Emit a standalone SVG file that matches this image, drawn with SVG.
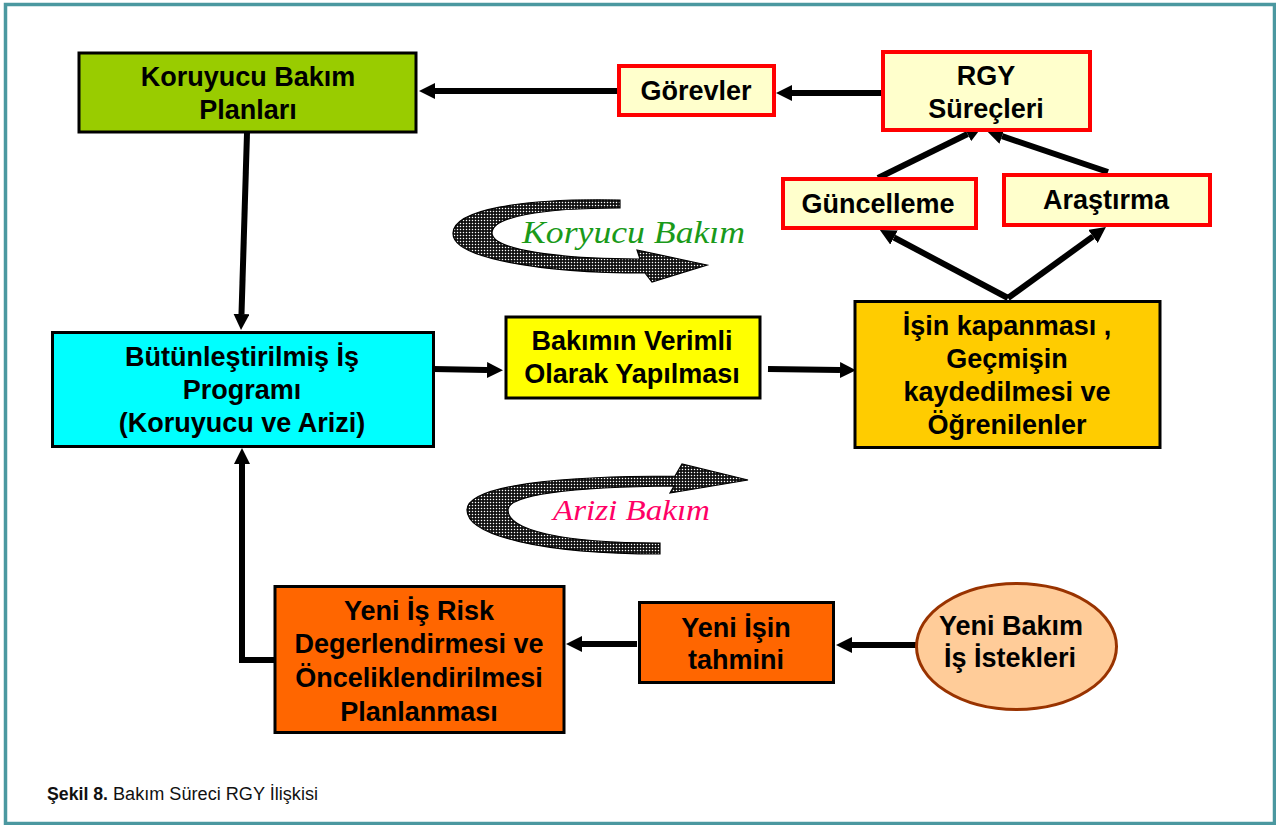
<svg xmlns="http://www.w3.org/2000/svg" width="1276" height="825" viewBox="0 0 1276 825">
  <style>
    .lbl { font-family: "Liberation Sans", Arial, sans-serif; font-weight: bold; font-size: 27px; fill: #000; text-anchor: middle; }
    .box { stroke: #000; stroke-width: 3; }
    .rbox { fill: #ffffcc; stroke: #ff0000; stroke-width: 4; }
    .conn { fill: none; stroke: #000; stroke-width: 6; marker-end: url(#head); }
    .swirl { fill: url(#dots); stroke: #000; stroke-width: 1.2; }
    .cap { font-family: "Liberation Sans", Arial, sans-serif; font-size: 18px; fill: #111; }
  </style>
  <defs>
    <marker id="head" markerUnits="userSpaceOnUse" viewBox="0 0 16 16" markerWidth="16" markerHeight="16" refX="0" refY="8" orient="auto">
      <path d="M0,0 L16,8 L0,16 z" fill="#000"/>
    </marker>
    <pattern id="dots" width="3" height="3" patternUnits="userSpaceOnUse">
      <rect width="3" height="3" fill="#111111"/>
      <circle cx="1.5" cy="1.5" r="0.75" fill="#ffffff"/>
    </pattern>
  </defs>

  <rect width="1276" height="825" fill="#ffffff"/>
  <rect x="5.5" y="4.5" width="1269" height="819" fill="none" stroke="#4b98a0" stroke-width="3.5"/>

  <!-- cycle arrows -->
  <g id="koruyucu-cycle">
    <path class="swirl" d="M620,200 C520,198 454,210 453,233 C452,258 540,273 645,273 L652,282 L707,265 L637,250 L640,259 C560,259 492,250 492,233 C492,217 540,208 620,208 Z"/>
    <text x="522" y="243" font-family="'Liberation Serif', 'Times New Roman', serif" font-style="italic" font-size="32" fill="#1a9a1a" textLength="223" lengthAdjust="spacingAndGlyphs">Koryucu Bakım</text>
  </g>
  <g id="arizi-cycle">
    <path class="swirl" d="M660,554 C540,554 467,535 467,510 C467,485 560,476 675,476 L682,464 L748,480 L670,493 L674,486 C570,487 508,495 508,510 C508,530 560,543 660,543 Z"/>
    <text x="553" y="520" font-family="'Liberation Serif', 'Times New Roman', serif" font-style="italic" font-size="29" fill="#ff0066" textLength="157" lengthAdjust="spacingAndGlyphs">Arizi Bakım</text>
  </g>

  <!-- connectors -->
  <g id="connectors">
    <path class="conn" d="M881,93 L792,93"/>
    <path class="conn" d="M617,91 L435,91"/>
    <path class="conn" d="M247,133 L241.5,314"/>
    <path class="conn" d="M433,369 L487,370"/>
    <path class="conn" d="M768,369 L840,370"/>
    <path class="conn" d="M1008,298 L894,237.5"/>
    <path class="conn" d="M1008,298 L1093,236.4"/>
    <path class="conn" d="M878,178 L967.6,134"/>
    <path class="conn" d="M1108,172 L1002,136.2"/>
    <path class="conn" d="M916,645 L852,645"/>
    <path class="conn" d="M637,644 L582,644"/>
    <path class="conn" d="M274,660 L242,660 L242,464"/>
  </g>

  <!-- nodes -->
  <g id="koruyucu-plan">
    <rect class="box" x="79" y="53" width="337" height="79" fill="#99cc00"/>
    <text class="lbl" x="248" y="86">Koruyucu Bakım</text>
    <text class="lbl" x="248" y="119">Planları</text>
  </g>
  <g id="gorevler">
    <rect class="rbox" x="619" y="66" width="155" height="49"/>
    <text class="lbl" x="696" y="100">Görevler</text>
  </g>
  <g id="rgy">
    <rect class="rbox" x="883" y="52" width="207" height="78"/>
    <text class="lbl" x="986" y="85">RGY</text>
    <text class="lbl" x="986" y="118">Süreçleri</text>
  </g>
  <g id="guncelleme">
    <rect class="rbox" x="783" y="179" width="193" height="49"/>
    <text class="lbl" x="878" y="213">Güncelleme</text>
  </g>
  <g id="arastirma">
    <rect class="rbox" x="1004" y="175" width="206" height="50"/>
    <text class="lbl" x="1106" y="209">Araştırma</text>
  </g>
  <g id="is-programi">
    <rect class="box" x="52.5" y="332.5" width="381" height="114" fill="#00ffff"/>
    <text class="lbl" x="242" y="366">Bütünleştirilmiş İş</text>
    <text class="lbl" x="242" y="399">Programı</text>
    <text class="lbl" x="242" y="432">(Koruyucu ve Arizi)</text>
  </g>
  <g id="verimli">
    <rect class="box" x="506" y="317" width="254" height="81" fill="#ffff00"/>
    <text class="lbl" x="632" y="350">Bakımın Verimli</text>
    <text class="lbl" x="632" y="383">Olarak Yapılması</text>
  </g>
  <g id="kapanma">
    <rect class="box" x="855" y="301.5" width="305" height="146" fill="#ffcc00"/>
    <text class="lbl" x="1007" y="335">İşin kapanması ,</text>
    <text class="lbl" x="1007" y="368">Geçmişin</text>
    <text class="lbl" x="1007" y="401">kaydedilmesi ve</text>
    <text class="lbl" x="1007" y="434">Öğrenilenler</text>
  </g>
  <g id="risk">
    <rect class="box" x="275" y="586.5" width="289" height="146" fill="#ff6600"/>
    <text class="lbl" x="419" y="620">Yeni İş Risk</text>
    <text class="lbl" x="419" y="653">Degerlendirmesi ve</text>
    <text class="lbl" x="419" y="687">Önceliklendirilmesi</text>
    <text class="lbl" x="419" y="721">Planlanması</text>
  </g>
  <g id="tahmin">
    <rect class="box" x="639.5" y="602.5" width="194" height="80" fill="#ff6600"/>
    <text class="lbl" x="736" y="637">Yeni İşin</text>
    <text class="lbl" x="736" y="669">tahmini</text>
  </g>
  <g id="istekler">
    <ellipse cx="1016.5" cy="646.5" rx="100" ry="63" fill="#ffcc99" stroke="#993300" stroke-width="3"/>
    <text class="lbl" x="1011" y="635">Yeni Bakım</text>
    <text class="lbl" x="1010" y="667">İş İstekleri</text>
  </g>

  <!-- caption -->
  <text class="cap" x="47" y="800" font-weight="bold" textLength="61" lengthAdjust="spacingAndGlyphs">Şekil 8.</text>
  <text class="cap" x="113" y="800" textLength="205" lengthAdjust="spacingAndGlyphs">Bakım Süreci RGY İlişkisi</text>
</svg>
